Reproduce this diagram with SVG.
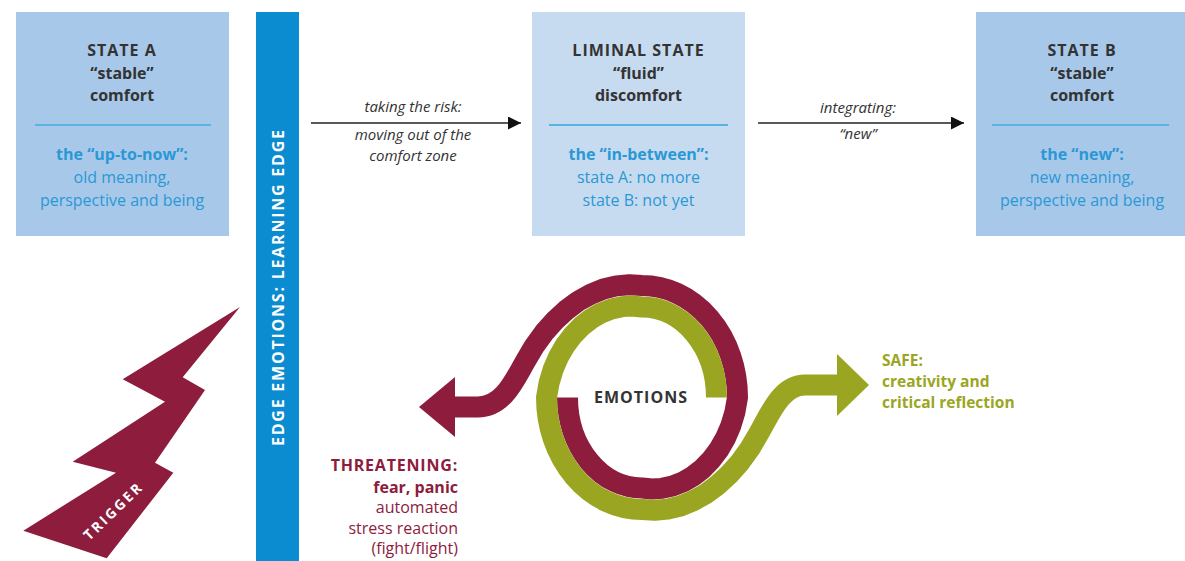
<svg xmlns="http://www.w3.org/2000/svg" width="1185" height="561" viewBox="0 0 1185 561">
<defs>
<style>
text{font-family:"Open Sans","Liberation Sans",Arial,sans-serif}
.box{fill:#a8c8ea}
.boxl{fill:#c6dbf0}
.div{stroke:#5ab3e3;stroke-width:2}
.hd{font-size:16px;font-weight:700;fill:#333;text-anchor:middle}
.cap{letter-spacing:1px}
.bl{font-size:16px;fill:#2a98d5;text-anchor:middle}
.b{font-weight:700}
.lab{font-size:15px;font-style:italic;fill:#333;text-anchor:middle}
.conn{stroke:#222;stroke-width:1.3;fill:none}
.band{fill:none;stroke-width:21;stroke-linejoin:round;stroke-linecap:butt}
.red{stroke:#8d1c3d}
.grn{stroke:#9aa621}
.rt{font-size:16px;fill:#8d1c3d;text-anchor:end}
.gt{font-size:15.5px;fill:#9aa621;font-weight:700}
</style>
<marker id="ah" markerUnits="userSpaceOnUse" markerWidth="14" markerHeight="14" refX="13" refY="6.5" orient="auto">
<path d="M0,0 L13,6.5 L0,13 z" fill="#111"/>
</marker>
</defs>
<rect width="1185" height="561" fill="#fff"/>

<g id="state-a">
<rect class="box" x="16" y="12" width="213" height="224"/>
<text class="hd cap" x="122" y="56">STATE A</text>
<text class="hd" x="122" y="79">“stable”</text>
<text class="hd" x="122" y="101">comfort</text>
<line class="div" x1="35" y1="125" x2="211" y2="125"/>
<text class="bl b" x="122" y="160">the “up-to-now”:</text>
<text class="bl" x="122" y="183">old meaning,</text>
<text class="bl" x="122" y="206">perspective and being</text>
</g>

<g id="edge-bar">
<rect x="256" y="12" width="43" height="549" fill="#0b8bd0"/>
<text transform="translate(278,288) rotate(-90)" y="5.5" font-size="16" font-weight="700" fill="#fff" text-anchor="middle" textLength="316" lengthAdjust="spacing">EDGE EMOTIONS: LEARNING EDGE</text>
</g>

<g id="liminal-state">
<rect class="boxl" x="532" y="12" width="213" height="224"/>
<text class="hd cap" x="638.5" y="56">LIMINAL STATE</text>
<text class="hd" x="638.5" y="79">“fluid”</text>
<text class="hd" x="638.5" y="101">discomfort</text>
<line class="div" x1="549" y1="125" x2="728" y2="125"/>
<text class="bl b" x="638.5" y="160">the “in-between”:</text>
<text class="bl" x="638.5" y="183">state A: no more</text>
<text class="bl" x="638.5" y="206">state B: not yet</text>
</g>

<g id="state-b">
<rect class="box" x="976" y="12" width="213" height="224"/>
<text class="hd cap" x="1082" y="56">STATE B</text>
<text class="hd" x="1082" y="79">“stable”</text>
<text class="hd" x="1082" y="101">comfort</text>
<line class="div" x1="992" y1="125" x2="1169" y2="125"/>
<text class="bl b" x="1082" y="160">the “new”:</text>
<text class="bl" x="1082" y="183">new meaning,</text>
<text class="bl" x="1082" y="206">perspective and being</text>
</g>

<g id="trigger">
<polygon fill="#8d1c3d" points="240,307 182.7,377.3 205,390 155,462.7 173.3,472.7 106.7,558.3 23.3,530.7 116,472.7 72.7,461.7 165,401.7 122.7,379.3"/>
<text transform="translate(112.5,511.7) rotate(-44)" y="5" font-size="14" font-weight="700" fill="#fff" text-anchor="middle" textLength="74" lengthAdjust="spacing">TRIGGER</text>
</g>

<g id="connectors">
<line class="conn" x1="311" y1="123" x2="521" y2="123" marker-end="url(#ah)"/>
<text class="lab" x="413" y="112">taking the risk:</text>
<text class="lab" x="413" y="140">moving out of the</text>
<text class="lab" x="413" y="161">comfort zone</text>
<line class="conn" x1="758" y1="123" x2="964" y2="123" marker-end="url(#ah)"/>
<text class="lab" x="858" y="113">integrating:</text>
<text class="lab" x="858" y="139">“new”</text>

<path class="band red" d="M567.5,397.5 A74.5,90.5 0 0 0 642,488 L651.95,489 L662.19,488.37 L672.52,486.08 L682.75,482.08 L692.68,476.41 L702.1,469.09 L710.82,460.23 L718.64,449.92 L725.38,438.3 L730.87,425.56 L734.95,411.89 L737.5,397.5 A95.5,112 0 0 0 642,285.5 L629.31,284.68 L616.38,285.86 L603.44,289.06 L590.75,294.3 L578.23,301.14 L566.34,310 L554.93,320.47 L544.14,332.58 L534.14,346.36 L525.12,361.8 C514,380.8 503,407 478,407 L452,407"/>
<polygon fill="#8d1c3d" points="455,377 419,407 455,437"/>

<path class="band grn" d="M716.5,397.5 A74.5,90.5 0 0 0 642,307 L632.05,306 L621.81,306.63 L611.48,308.92 L601.25,312.92 L591.32,318.59 L581.9,325.91 L573.18,334.77 L565.36,345.08 L558.62,356.7 L553.13,369.44 L549.05,383.11 L546.5,397.5 A95.5,112 0 0 0 642,509.5 L654.69,510.32 L667.62,509.14 L680.56,505.94 L693.25,500.7 L705.77,493.86 L717.66,485 L729.07,474.53 L739.86,462.42 L749.86,448.64 L758.88,433.2 C770,414.2 781,385 805,385 L840,385"/>
<polygon fill="#9aa621" points="837,354 869,385 837,416"/>
</g>

<g id="emotions">
<text x="641" y="403" font-size="16" font-weight="700" fill="#333" text-anchor="middle" letter-spacing="1">EMOTIONS</text>
</g>

<g id="threatening">
<text class="rt b" x="458" y="471" letter-spacing="0.8">THREATENING:</text>
<text class="rt b" x="458" y="493">fear, panic</text>
<text class="rt" x="458" y="513">automated</text>
<text class="rt" x="458" y="534">stress reaction</text>
<text class="rt" x="458" y="554">(fight/flight)</text>
</g>

<g id="safe">
<text class="gt" x="882" y="366">SAFE:</text>
<text class="gt" x="882" y="387">creativity and</text>
<text class="gt" x="882" y="408">critical reflection</text>
</g>
</svg>
